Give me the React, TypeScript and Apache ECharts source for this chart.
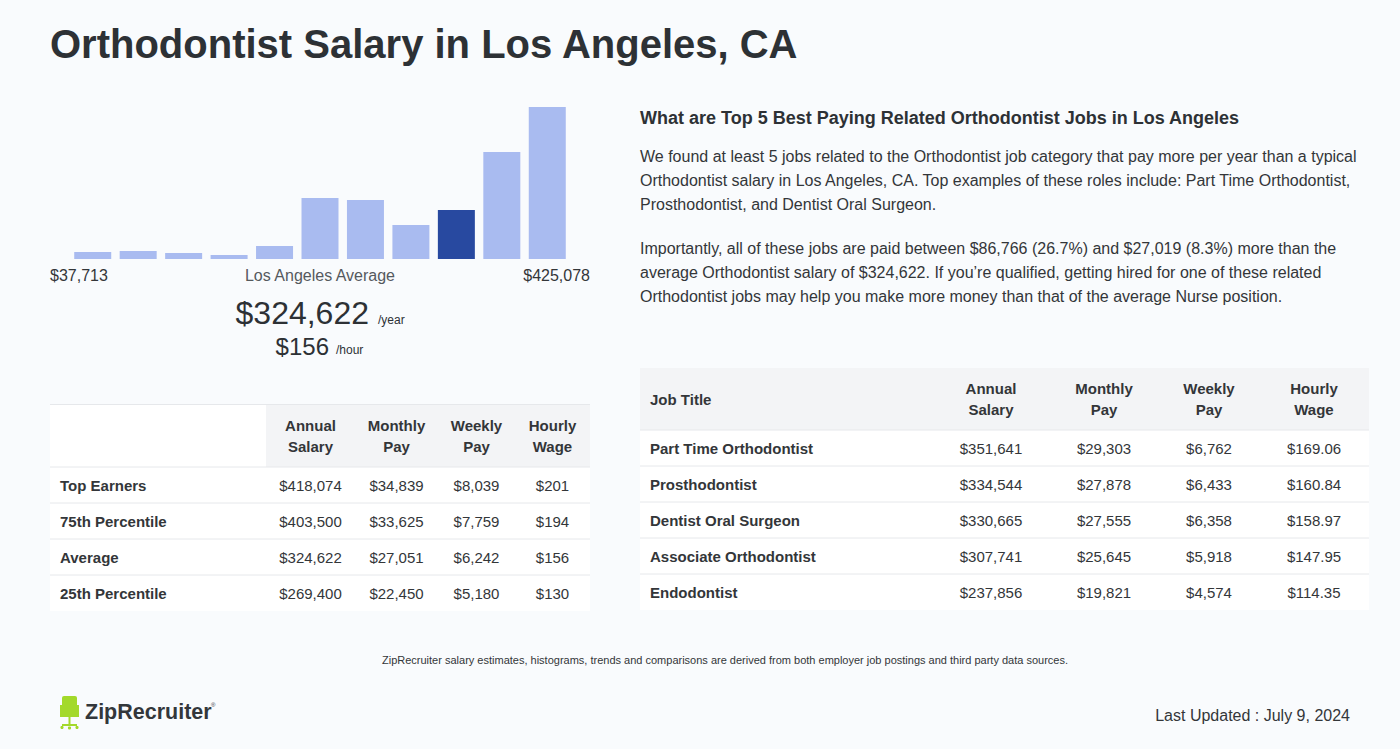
import React, { useEffect, useRef } from "react";
import * as echarts from "echarts";

// ---------- DATA ----------
const titleText = "Orthodontist Salary in Los Angeles, CA";
const histogramBins = ["b1", "b2", "b3", "b4", "b5", "b6", "b7", "b8", "b9", "b10", "b11"];
const histogramCounts = [7, 8, 6, 4, 13, 61, 59, 34, 49, 107, 152];
const averageBinIndex = 8;
const rangeMinLabel = "$37,713";
const rangeMaxLabel = "$425,078";
const averageLabel = "Los Angeles Average";
const averageYear = "$324,622";
const averageHour = "$156";

const payHeaders = [["Annual", "Salary"], ["Monthly", "Pay"], ["Weekly", "Pay"], ["Hourly", "Wage"]];
const percentileRows = ["Top Earners", "75th Percentile", "Average", "25th Percentile"];
const percentileAnnual = [418074, 403500, 324622, 269400];
const percentileMonthly = [34839, 33625, 27051, 22450];
const percentileWeekly = [8039, 7759, 6242, 5180];
const percentileHourly = [201, 194, 156, 130];

const relatedHeading = "What are Top 5 Best Paying Related Orthodontist Jobs in Los Angeles";
const paragraph1 = [
  "We found at least 5 jobs related to the Orthodontist job category that pay more per year than a typical",
  "Orthodontist salary in Los Angeles, CA. Top examples of these roles include: Part Time Orthodontist,",
  "Prosthodontist, and Dentist Oral Surgeon.",
];
const paragraph2 = [
  "Importantly, all of these jobs are paid between $86,766 (26.7%) and $27,019 (8.3%) more than the",
  "average Orthodontist salary of $324,622. If you\u2019re qualified, getting hired for one of these related",
  "Orthodontist jobs may help you make more money than that of the average Nurse position.",
];
const jobTitles = ["Part Time Orthodontist", "Prosthodontist", "Dentist Oral Surgeon", "Associate Orthodontist", "Endodontist"];
const jobAnnual = [351641, 334544, 330665, 307741, 237856];
const jobMonthly = [29303, 27878, 27555, 25645, 19821];
const jobWeekly = [6762, 6433, 6358, 5918, 4574];
const jobHourly = [169.06, 160.84, 158.97, 147.95, 114.35];

const footnote = "ZipRecruiter salary estimates, histograms, trends and comparisons are derived from both employer job postings and third party data sources.";
const brandName = "ZipRecruiter";
const lastUpdated = "Last Updated : July 9, 2024";

// ---------- STYLE ----------
const FONT = '"Liberation Sans", Arial, Helvetica, sans-serif';
const DARK = "#2d3135";
const TEXT = "#333639";
const GRAYTXT = "#55595d";
const BG = "#f9fbfd";
const HEADBG = "#f3f4f6";
const BORDER = "#e6e8eb";
const LIGHTBAR = "#a9bbf0";
const DARKBAR = "#2849a0";
const GREEN = "#a3d92b";

const money = (v: number) => "$" + v.toLocaleString("en-US");
const money2 = (v: number) => "$" + v.toLocaleString("en-US", { minimumFractionDigits: 2, maximumFractionDigits: 2 });

function txt(text: string, x: number, y: number, size: number, opts: any = {}) {
  return {
    type: "text",
    silent: true,
    style: {
      text,
      x,
      y,
      fill: opts.fill || TEXT,
      font: `${opts.weight || "normal"} ${size}px ${FONT}`,
      textAlign: opts.align || "left",
      textVerticalAlign: "middle",
    },
  };
}
function rect(x: number, y: number, w: number, h: number, fill: string) {
  return { type: "rect", silent: true, shape: { x, y, width: w, height: h }, style: { fill } };
}
function hline(x1: number, x2: number, y: number, stroke = BORDER) {
  return { type: "line", silent: true, shape: { x1, y1: y + 0.5, x2, y2: y + 0.5 }, style: { stroke, lineWidth: 1 } };
}

export default function App() {
  const ref = useRef<HTMLDivElement>(null);
  useEffect(() => {
    document.body.style.margin = "0";
    document.body.style.background = BG;
    const chart = echarts.init(ref.current!, null, { renderer: "svg" });
    const g: any[] = [];

    // Title
    g.push(txt(titleText, 50, 44, 40, { weight: "bold", fill: DARK }));

    // Histogram labels
    g.push(txt(rangeMinLabel, 50, 275, 16, { fill: TEXT }));
    g.push(txt(averageLabel, 320, 275, 16, { fill: GRAYTXT, align: "center" }));
    g.push(txt(rangeMaxLabel, 590, 275, 16, { fill: TEXT, align: "right" }));
    g.push(txt(averageYear, 369, 313, 32, { fill: DARK, align: "right" }));
    g.push(txt("/year", 378, 320, 12, { fill: DARK }));
    g.push(txt(averageHour, 329, 346, 24, { fill: DARK, align: "right" }));
    g.push(txt("/hour", 336, 350, 12, { fill: DARK }));

    // Left table
    const lt = { x: 50, w: 540, top: 405, headH: 62, rowH: 36 };
    const lCols = [266, 355, 438, 515, 590];
    g.push(rect(lt.x, lt.top, lt.w, lt.headH + lt.rowH * percentileRows.length, "#ffffff"));
    g.push(rect(lCols[0], lt.top, lCols[4] - lCols[0], lt.headH, HEADBG));
    g.push(hline(lt.x, lt.x + lt.w, lt.top - 1));
    payHeaders.forEach((h, i) => {
      const cx = (lCols[i] + lCols[i + 1]) / 2;
      g.push(txt(h[0], cx, 425, 15, { weight: "bold", align: "center" }));
      g.push(txt(h[1], cx, 446, 15, { weight: "bold", align: "center" }));
    });
    const lVals = [percentileAnnual, percentileMonthly, percentileWeekly, percentileHourly];
    percentileRows.forEach((r, ri) => {
      const y0 = lt.top + lt.headH + ri * lt.rowH;
      g.push(hline(lt.x, lt.x + lt.w, y0 - 0.5));
      const cy = y0 + lt.rowH / 2;
      g.push(txt(r, 60, cy, 15, { weight: "bold" }));
      lVals.forEach((arr, ci) => {
        g.push(txt(money(arr[ri]), (lCols[ci] + lCols[ci + 1]) / 2, cy, 15, { align: "center" }));
      });
    });

    // Right section text
    g.push(txt(relatedHeading, 640, 118, 18, { weight: "bold", fill: DARK }));
    paragraph1.forEach((l, i) => g.push(txt(l, 640, 156 + i * 24, 16)));
    paragraph2.forEach((l, i) => g.push(txt(l, 640, 248 + i * 24, 16)));

    // Right table
    const rt = { x: 640, w: 729, top: 368, headH: 62, rowH: 36 };
    const rCols = [935, 1048, 1160, 1258, 1369];
    g.push(rect(rt.x, rt.top, rt.w, rt.headH + rt.rowH * jobTitles.length, "#ffffff"));
    g.push(rect(rt.x, rt.top, rt.w, rt.headH, HEADBG));
    g.push(txt("Job Title", 650, 399, 15, { weight: "bold" }));
    payHeaders.forEach((h, i) => {
      const cx = [991, 1104, 1209, 1314][i];
      g.push(txt(h[0], cx, 388, 15, { weight: "bold", align: "center" }));
      g.push(txt(h[1], cx, 409, 15, { weight: "bold", align: "center" }));
    });
    const rCenters = [991, 1104, 1209, 1314];
    jobTitles.forEach((t, ri) => {
      const y0 = rt.top + rt.headH + ri * rt.rowH;
      g.push(hline(rt.x, rt.x + rt.w, y0 - 0.5));
      const cy = y0 + rt.rowH / 2;
      g.push(txt(t, 650, cy, 15, { weight: "bold" }));
      g.push(txt(money(jobAnnual[ri]), rCenters[0], cy, 15, { align: "center" }));
      g.push(txt(money(jobMonthly[ri]), rCenters[1], cy, 15, { align: "center" }));
      g.push(txt(money(jobWeekly[ri]), rCenters[2], cy, 15, { align: "center" }));
      g.push(txt(money2(jobHourly[ri]), rCenters[3], cy, 15, { align: "center" }));
    });
    void rCols;

    // Footnote
    g.push(txt(footnote, 725, 660, 11, { align: "center" }));

    // Logo: chair icon
    g.push({ type: "rect", silent: true, shape: { x: 62, y: 696, width: 15, height: 18, r: [2, 2, 0, 0] }, style: { fill: GREEN } });
    g.push({ type: "line", silent: true, shape: { x1: 61, y1: 705, x2: 61, y2: 717 }, style: { stroke: GREEN, lineWidth: 2 } });
    g.push({ type: "line", silent: true, shape: { x1: 78, y1: 705, x2: 78, y2: 717 }, style: { stroke: GREEN, lineWidth: 2 } });
    g.push(rect(60, 714, 19, 3, GREEN));
    g.push({ type: "line", silent: true, shape: { x1: 69.5, y1: 717, x2: 69.5, y2: 726 }, style: { stroke: GREEN, lineWidth: 2 } });
    g.push({ type: "line", silent: true, shape: { x1: 62, y1: 725, x2: 77, y2: 725 }, style: { stroke: GREEN, lineWidth: 2 } });
    g.push({ type: "circle", silent: true, shape: { cx: 62, cy: 727.5, r: 1.6 }, style: { fill: GREEN } });
    g.push({ type: "circle", silent: true, shape: { cx: 77, cy: 727.5, r: 1.6 }, style: { fill: GREEN } });
    g.push({ type: "circle", silent: true, shape: { cx: 69.5, cy: 728, r: 1.6 }, style: { fill: GREEN } });
    g.push(txt(brandName, 85, 712, 21.5, { weight: "bold", fill: "#33373b" }));
    g.push(txt("\u00ae", 211, 705, 6, { fill: "#33373b" }));

    // Last updated
    g.push(txt(lastUpdated, 1350, 715, 16, { align: "right" }));

    chart.setOption({
      animation: false,
      backgroundColor: BG,
      grid: { left: 70, top: 107, width: 500, height: 152, containLabel: false },
      xAxis: {
        type: "category",
        data: histogramBins,
        show: false,
      },
      yAxis: { type: "value", min: 0, max: 152, show: false },
      series: [
        {
          type: "bar",
          barWidth: 37,
          silent: true,
          data: histogramCounts.map((v, i) => ({
            value: v,
            itemStyle: { color: i === averageBinIndex ? DARKBAR : LIGHTBAR },
          })),
        },
      ],
      graphic: { elements: g },
    });
    return () => chart.dispose();
  }, []);
  return <div ref={ref} style={{ width: 1400, height: 749, position: "absolute", left: 0, top: 0 }} />;
}
